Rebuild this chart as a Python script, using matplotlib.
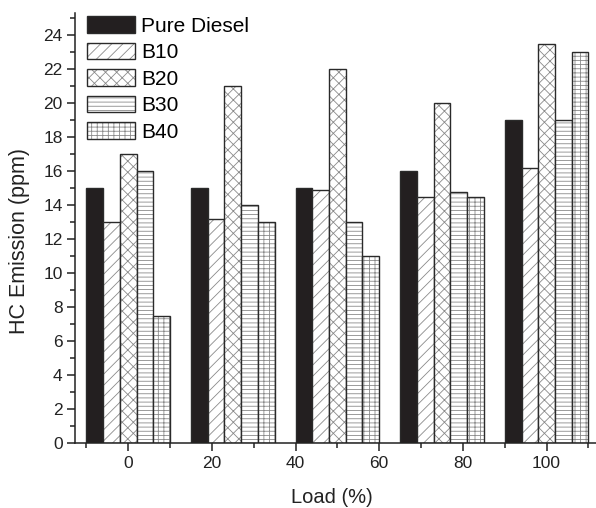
import numpy as np
import matplotlib.pyplot as plt
from matplotlib.ticker import MultipleLocator

plt.rcParams['font.family'] = ['Liberation Sans', 'DejaVu Sans']
plt.rcParams['hatch.linewidth'] = 0.6

# ----------------------------------------------------------------

loads = [0, 25, 50, 75, 100]
series = ['Pure Diesel', 'B10', 'B20', 'B30', 'B40']

pure_diesel = [15, 15, 15, 16, 19]
b10 = [13, 13.2, 14.9, 14.5, 16.2]
b20 = [17, 21, 22, 20, 23.5]
b30 = [16, 14, 13, 14.8, 19]
b40 = [7.5, 13, 11, 14.5, 23]

x_ticks = [0, 20, 40, 60, 80, 100]

# ----------------------------------------------------------------

W, H = 596, 508
fig = plt.figure(figsize=(W / 100, H / 100), dpi=100)
ax = fig.add_axes([75 / W, (H - 443.3) / H, (W - 75) / W, 430 / H])

values = [pure_diesel, b10, b20, b30, b40]
hatches = [None, '///', 'xxx', '----', '----|||']
width = 4
edge = '#2a2a2a'

handles = []
for i, (vals, hatch) in enumerate(zip(values, hatches)):
    xs = np.array(loads) + (i - 2) * width
    if hatch is None:
        fill = ax.bar(xs, vals, width, color='#231f20', edgecolor=edge, linewidth=1)
        handles.append(fill[0])
    else:
        # hatch in grey, outline drawn dark on top
        fill = ax.bar(xs, vals, width, color='white', edgecolor='#8a8a8a',
                      hatch=hatch, linewidth=0)
        line = ax.bar(xs, vals, width, fill=False, edgecolor=edge, linewidth=1)
        handles.append((fill[0], line[0]))

ax.set_xlim(-12.7, 111.8)
ax.set_ylim(0, 25.28)
ax.set_xticks(x_ticks)
ax.xaxis.set_minor_locator(MultipleLocator(10))
ax.yaxis.set_major_locator(MultipleLocator(2))
ax.yaxis.set_minor_locator(MultipleLocator(1))

for s in ['top', 'right']:
    ax.spines[s].set_visible(False)
for s in ['left', 'bottom']:
    ax.spines[s].set_linewidth(1.1)
    ax.spines[s].set_color('#222222')

ax.tick_params(which='major', direction='out', length=6, width=1.1,
               color='#222222', labelsize=12.5, labelcolor='#222222', pad=3)
ax.tick_params(which='minor', direction='out', length=3.5, width=1.1, color='#222222')
ax.xaxis.set_minor_formatter(plt.NullFormatter())

ax.set_xlabel('Load (%)', fontsize=14.5, color='#222222')
ax.set_ylabel('HC Emission (ppm)', fontsize=15.5, color='#222222')
ax.xaxis.set_label_coords(0.493, -0.125)
ax.yaxis.set_label_coords(-0.106, 0.471)
ax.xaxis.label.set_va('center')
ax.yaxis.label.set_va('center')

ax.legend(handles, series, loc='upper left', bbox_to_anchor=(87 / W, 1 - 16 / H),
          bbox_transform=fig.transFigure, frameon=False, fontsize=15,
          handlelength=2.3, handleheight=0.87, handletextpad=0.3,
          labelspacing=0.33, borderpad=0, borderaxespad=0)

fig.savefig('out.png', dpi=100)
